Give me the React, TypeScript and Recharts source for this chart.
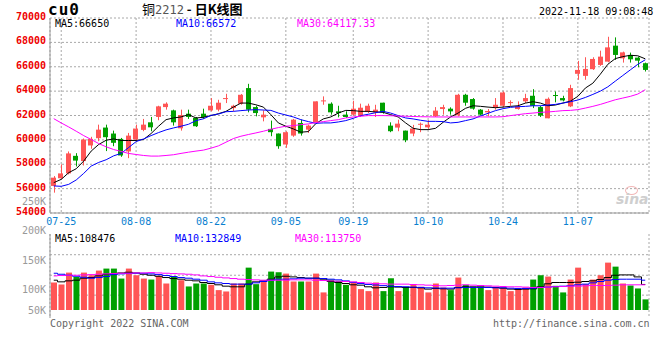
import {
	ComposedChart,
	Bar,
	Line,
	XAxis,
	YAxis,
	CartesianGrid,
	Cell,
} from 'recharts';

// trading days shown on the chart (07-22 .. 11-18)
const dates = [
	'07-22', '07-25', '07-26', '07-27', '07-28', '07-29', '08-01', '08-02', '08-03', '08-04',
	'08-05', '08-08', '08-09', '08-10', '08-11', '08-12', '08-15', '08-16', '08-17', '08-18',
	'08-19', '08-22', '08-23', '08-24', '08-25', '08-26', '08-29', '08-30', '08-31', '09-01',
	'09-02', '09-05', '09-06', '09-07', '09-08', '09-09', '09-13', '09-14', '09-15', '09-16',
	'09-19', '09-20', '09-21', '09-22', '09-23', '09-26', '09-27', '09-28', '09-29', '09-30',
	'10-10', '10-11', '10-12', '10-13', '10-14', '10-17', '10-18', '10-19', '10-20', '10-21',
	'10-24', '10-25', '10-26', '10-27', '10-28', '10-31', '11-01', '11-02', '11-03', '11-04',
	'11-07', '11-08', '11-09', '11-10', '11-11', '11-14', '11-15', '11-16', '11-17', '11-18',
];

const opens = [
	56220, 56850, 57250, 58690, 58260, 59540, 60140, 61010, 60520, 60080,
	59050, 60030, 60820, 61440, 61880, 62690, 62420, 60950, 62150, 61800,
	62150, 62420, 62480, 63400, 62610, 62970, 64250, 62690, 61850, 60900,
	60520, 59620, 60350, 61390, 60840, 61440, 63220, 62970, 62340, 62070,
	62070, 61990, 62310, 62260, 63050, 61170, 61010, 60760, 60520, 61280,
	61030, 61930, 62530, 62560, 62010, 63700, 63350, 62480, 62260, 62690,
	62800, 63080, 62530, 63160, 63620, 62690, 61770, 63680, 63430, 62750,
	65420, 65250, 65800, 66150, 66420, 67730, 66690, 66970, 66750, 66290,
];
const highs = [
	57030, 57990, 59050, 58910, 60110, 60250, 61250, 61250, 60760, 60160,
	60570, 61250, 61720, 61880, 62800, 63080, 62480, 62480, 62480, 61880,
	62560, 63430, 63290, 63780, 62880, 63760, 64600, 62800, 62420, 61580,
	60520, 60710, 61720, 61660, 61250, 63160, 63570, 63080, 62800, 62340,
	63210, 62970, 62970, 62880, 63050, 61440, 61660, 60760, 61230, 61420,
	61610, 62690, 62880, 62670, 63780, 63780, 63430, 62530, 62530, 63430,
	63970, 63240, 63160, 63780, 64160, 62800, 63480, 63970, 63620, 64520,
	66480, 66780, 66780, 67320, 68460, 68410, 67240, 67160, 66830, 66340,
];
const lows = [
	55670, 56800, 57170, 57820, 57900, 59270, 59890, 59080, 59480, 58610,
	58500, 59890, 60710, 60710, 61610, 62480, 61170, 60760, 61720, 61060,
	61720, 62340, 62340, 63020, 62340, 62880, 62260, 61930, 61520, 60300,
	59270, 59350, 60250, 60350, 60570, 61390, 62880, 62070, 61850, 61800,
	61990, 61880, 62200, 61880, 62150, 60630, 60710, 59810, 60300, 60630,
	60900, 61880, 62070, 62070, 61930, 62800, 62480, 61990, 61930, 62480,
	62690, 62800, 62480, 63020, 62610, 61880, 61770, 63080, 63160, 62690,
	64930, 64930, 65740, 66070, 66370, 66560, 66340, 66340, 65960, 65610,
];
const closes = [
	56900, 57250, 58890, 58300, 60030, 60080, 60840, 60220, 59760, 58720,
	60350, 60930, 61250, 61030, 62750, 62970, 61440, 62040, 61880, 61120,
	61880, 62800, 63050, 63430, 62800, 63700, 62480, 62200, 62070, 60630,
	59480, 60630, 61660, 60520, 61170, 63160, 63240, 62260, 62200, 61880,
	62560, 62640, 62800, 62480, 62260, 60710, 61330, 59970, 60930, 61320,
	61250, 62400, 62690, 62340, 63700, 63050, 62560, 62070, 62370, 62880,
	63890, 63100, 62750, 63430, 62800, 61990, 63370, 63640, 63240, 64250,
	65740, 65820, 66640, 66830, 67590, 66970, 67180, 66610, 66500, 65740,
];

const ma5 = [
	56490, 56760, 57310, 57630, 58260, 59080, 59620, 59970, 60080, 59950,
	59950, 59950, 60030, 60520, 61120, 61660, 61800, 61880, 62070, 61800,
	61850, 61990, 62150, 62340, 62690, 63020, 63020, 62880, 62690, 62070,
	61390, 61120, 60900, 60630, 60680, 61330, 61720, 61880, 62200, 62420,
	62400, 62340, 62340, 62290, 62260, 62070, 61880, 61390, 60950, 60840,
	60840, 60950, 61440, 61880, 62200, 62590, 62800, 62750, 62690, 62640,
	62690, 62750, 62800, 63020, 63130, 63020, 62800, 62860, 63020, 63180,
	63570, 64250, 64650, 65390, 66200, 66670, 66830, 66940, 66900, 66650,
];
const ma10 = [
	56220, 56190, 56350, 56710, 57250, 57850, 58150, 58370, 58690, 58890,
	59370, 59860, 60080, 60350, 60600, 60820, 60980, 61120, 61280, 61580,
	61730, 62010, 62120, 62310, 62340, 62400, 62450, 62480, 62450, 62420,
	62200, 62040, 61880, 61660, 61500, 61360, 61390, 61390, 61470, 61580,
	61770, 61990, 62100, 62230, 62340, 62200, 61990, 61800, 61720, 61610,
	61520, 61520, 61500, 61390, 61440, 61580, 61720, 61960, 62180, 62400,
	62560, 62670, 62720, 62750, 62800, 62800, 62860, 62910, 63020, 63130,
	63270, 63480, 63730, 64000, 64350, 64820, 65280, 65740, 66200, 66572,
];
const ma30 = [
	61740, 61390, 61060, 60710, 60350, 60030, 59700, 59430, 59210, 59050,
	58890, 58800, 58720, 58670, 58670, 58720, 58780, 58890, 58990, 59080,
	59160, 59320, 59510, 59810, 60110, 60300, 60440, 60570, 60710, 60870,
	61010, 61120, 61170, 61250, 61310, 61420, 61500, 61580, 61660, 61800,
	61880, 61940, 61990, 61990, 61990, 61980, 61960, 61940, 61920, 61900,
	61890, 61880, 61880, 61880, 61880, 61880, 61880, 61880, 61880, 61880,
	61900, 61990, 62070, 62150, 62200, 62260, 62290, 62340, 62400, 62420,
	62480, 62610, 62750, 62910, 63100, 63290, 63430, 63570, 63760, 64117,
];

const volumes = [
	111800, 108400, 128600, 121300, 128600, 124100, 132000, 135400, 135400, 118500,
	135400, 124100, 118500, 116800, 123000, 110100, 121300, 115700, 105100, 110100,
	110100, 107900, 98900, 96600, 110100, 110100, 137000, 109000, 114600, 130300,
	129200, 126900, 113500, 113500, 113500, 126900, 95000, 116800, 114600, 107900,
	111800, 100600, 97200, 111800, 97200, 119000, 97200, 104500, 109000, 104500,
	95000, 110100, 103400, 98900, 120200, 107900, 103400, 103400, 98900, 104500,
	103400, 97200, 100600, 103400, 116800, 124100, 121900, 106200, 95000, 116800,
	137000, 109000, 116800, 124100, 145500, 138700, 110100, 106700, 101700, 83200,
];
const volMa5 = [
	115700, 112900, 114600, 115700, 119100, 120200, 123000, 125800, 126900, 128000,
	129200, 128000, 125800, 124100, 122400, 120200, 118500, 117400, 115700, 114600,
	111800, 110100, 107900, 105600, 104500, 104500, 109000, 112900, 114600, 117400,
	121300, 122400, 121300, 120200, 119100, 119100, 117400, 113500, 111800, 110100,
	107900, 107300, 104500, 102800, 103400, 104500, 104000, 103400, 103400, 102800,
	100600, 101700, 101100, 100600, 103400, 104500, 104500, 104500, 104000, 103400,
	102200, 100600, 100000, 100600, 101100, 104500, 109600, 111800, 111800, 111800,
	112300, 113500, 114600, 116800, 120200, 124100, 124700, 124700, 121300, 108476,
];
const volMa10 = [
	127500, 125800, 124100, 122400, 120700, 119100, 120200, 121900, 125200, 126400,
	126900, 127500, 127500, 126400, 125200, 123600, 121900, 120200, 119100, 117400,
	115700, 112900, 111200, 110100, 109000, 109000, 109000, 111200, 113500, 115700,
	117400, 117400, 118000, 119100, 119100, 119100, 118500, 117400, 116300, 114500,
	112000, 110000, 108500, 107500, 106500, 105500, 105000, 104500, 104000, 103500,
	102800, 102500, 102200, 102200, 102800, 103400, 103400, 103400, 103400, 102800,
	102800, 102200, 101700, 101700, 102200, 103400, 104000, 105000, 105600, 106200,
	107900, 109000, 111200, 113500, 115700, 116800, 117400, 117400, 117400, 115700,
];
const volMa30 = [
	123000, 123600, 124100, 124100, 124700, 125200, 125800, 126400, 126900, 127500,
	127500, 128000, 128000, 128600, 128000, 127500, 126900, 126400, 125800, 124700,
	123000, 121900, 120700, 119600, 118500, 117400, 116800, 116300, 115700, 115700,
	115700, 115700, 116300, 116300, 116300, 115700, 115200, 114600, 114000, 113500,
	112900, 111800, 110700, 110100, 109600, 109000, 109000, 109000, 108400, 107900,
	107300, 106700, 106200, 106700, 107300, 107900, 107300, 106700, 106200, 105600,
	105000, 104500, 104500, 104000, 103400, 103400, 104000, 104500, 105000, 105600,
	105600, 106200, 106700, 106700, 106700, 107300, 107900, 107900, 107900, 107900,
];

const labelDates = ['07-25', '08-08', '08-22', '09-05', '09-19', '10-10', '10-24', '11-07'];
const priceTicks = [54000, 56000, 58000, 60000, 62000, 64000, 66000, 68000, 70000];
const volTicks = [50000, 100000, 150000, 200000, 250000];
const volGridLines = [90400, 124100, 158900];

const MONO = '"DejaVu Sans Mono", monospace';
const CJK = '"Noto Sans CJK SC", sans-serif';
const RED = '#ff5555';
const GREEN = '#00a000';
const GRID = '#a8a8a8';
const FRAME = '#999999';

const data = dates.map((date, i) => ({
	i,
	date,
	open: opens[i],
	high: highs[i],
	low: lows[i],
	close: closes[i],
	ma5: ma5[i],
	ma10: ma10[i],
	ma30: ma30[i],
	vol: volumes[i],
	vma5: volMa5[i],
	vma10: volMa10[i],
	vma30: volMa30[i],
}));

const tickIdx = labelDates.map((d) => dates.indexOf(d));
const xDomain = [-0.5, dates.length - 0.5];

// wick + body, the bar itself spans low..high
const Candle = (props: any) => {
	const { x, y, width, height, payload } = props;
	if (x == null || y == null) return null;
	const top = Math.min(y, y + height);
	const h = Math.abs(height);
	const span = payload.high - payload.low || 1;
	const py = (v: number) => top + ((payload.high - v) / span) * h;
	const up = payload.close >= payload.open;
	const color = up ? RED : GREEN;
	const cx = Math.round(x + width / 2) + 0.5;
	const bodyTop = py(Math.max(payload.open, payload.close));
	const bodyH = Math.max(1, py(Math.min(payload.open, payload.close)) - bodyTop);
	return (
		<g>
			<line x1={cx} x2={cx} y1={top} y2={top + h} stroke={color} strokeWidth={1} />
			<rect x={Math.round(x)} y={bodyTop} width={Math.round(width)} height={bodyH} fill={color} />
		</g>
	);
};

const PriceTick = (props: any) => {
	const { x, y, payload } = props;
	return (
		<text x={x} y={y - 1.5} dy='0.355em' textAnchor='end' fill='#ee0000' fontSize={10} fontWeight='bold' fontFamily={MONO}>
			{payload.value}
		</text>
	);
};

const VolTick = (props: any) => {
	const { x, y, payload } = props;
	// lowest label sits on the bar baseline like in the original
	const ty = Math.min(y, 120);
	return (
		<text x={x} y={ty} dy='0.355em' textAnchor='end' fill='#999' fontSize={10} fontFamily={MONO}>
			{payload.value / 1000}K
		</text>
	);
};

const label = (left: number, top: number, color: string, text: string) => (
	<div style={{ position: 'absolute', left, top, fontSize: 10, lineHeight: '11px', color, fontFamily: MONO, whiteSpace: 'pre' }}>
		{text}
	</div>
);

const App = () => {
	return (
		<div style={{ position: 'absolute', left: 0, top: 0, width: 660, height: 360, background: '#fff', overflow: 'hidden' }}>
			{/* price panel */}
			<div style={{ position: 'absolute', left: 0, top: 0 }}>
				<ComposedChart width={660} height={231} data={data} margin={{ top: 18, right: 11, bottom: 0, left: 0 }}>
					<CartesianGrid stroke={GRID} strokeDasharray='2 2' />
					<XAxis
						type='number'
						dataKey='i'
						domain={xDomain}
						allowDataOverflow
						ticks={tickIdx}
						interval={0}
						tickFormatter={(v) => dates[v] ?? ''}
						tick={{ fill: '#0a7fcf', fontSize: 10, fontFamily: MONO }}
						tickLine={false}
						tickSize={3}
						tickMargin={2}
						height={18}
						stroke={FRAME}
					/>
					<XAxis xAxisId='top' orientation='top' type='number' dataKey='i' domain={xDomain} allowDataOverflow tick={false} tickLine={false} height={0} stroke={FRAME} />
					<YAxis
						domain={[54000, 70000]}
						allowDataOverflow
						ticks={priceTicks}
						interval={0}
						tick={<PriceTick />}
						tickLine={false}
						tickSize={2}
						tickMargin={2}
						width={50}
						stroke={FRAME}
					/>
					<YAxis yAxisId='right' orientation='right' width={0} tick={false} tickLine={false} stroke={FRAME} />
					<Bar dataKey={(d: any) => [d.low, d.high]} barSize={5} shape={(p: any) => <Candle {...p} />} isAnimationActive={false} />
					<Line type='linear' dataKey='ma5' stroke='#000' strokeWidth={1} dot={false} activeDot={false} isAnimationActive={false} />
					<Line type='linear' dataKey='ma10' stroke='#0000ff' strokeWidth={1} dot={false} activeDot={false} isAnimationActive={false} />
					<Line type='linear' dataKey='ma30' stroke='#ff00ff' strokeWidth={1} dot={false} activeDot={false} isAnimationActive={false} />
				</ComposedChart>
			</div>

			{/* volume panel */}
			<div style={{ position: 'absolute', left: 0, top: 190 }}>
				<ComposedChart width={660} height={140} data={data} margin={{ top: 44, right: 11, bottom: 12, left: 0 }}>
					<CartesianGrid stroke={GRID} strokeDasharray='2 2' horizontalValues={volGridLines} />
					<XAxis type='number' dataKey='i' domain={xDomain} allowDataOverflow ticks={tickIdx} interval={0} tick={false} tickLine={false} height={0} stroke={FRAME} />
					<XAxis xAxisId='top' orientation='top' type='number' dataKey='i' domain={xDomain} allowDataOverflow tick={false} tickLine={false} height={0} stroke={FRAME} />
					<YAxis
						domain={[65200, 194000]}
						allowDataOverflow
						ticks={volTicks}
						interval={0}
						padding={{ top: 0, bottom: 8 }}
						tick={<VolTick />}
						tickLine={false}
						tickSize={2}
						tickMargin={2}
						width={50}
						stroke={FRAME}
					/>
					<YAxis yAxisId='right' orientation='right' width={0} tick={false} tickLine={false} stroke={FRAME} />
					<Bar dataKey='vol' barSize={6} isAnimationActive={false}>
						{data.map((d, index) => (
							<Cell key={`v-${index}`} fill={d.close >= d.open ? RED : GREEN} />
						))}
					</Bar>
					<Line type='step' dataKey='vma5' stroke='#000' strokeWidth={1} dot={false} activeDot={false} isAnimationActive={false} />
					<Line type='step' dataKey='vma10' stroke='#0000ff' strokeWidth={1} dot={false} activeDot={false} isAnimationActive={false} />
					<Line type='step' dataKey='vma30' stroke='#ff00ff' strokeWidth={1} dot={false} activeDot={false} isAnimationActive={false} />
				</ComposedChart>
			</div>

			{/* header */}
			<div style={{ position: 'absolute', left: 48, top: 3, fontSize: 16, lineHeight: '13px', letterSpacing: 1, fontWeight: 'bold', fontFamily: MONO, color: '#000' }}>
				cu0
			</div>
			<div style={{ position: 'absolute', left: 142, top: 2, height: 14, lineHeight: '14px', whiteSpace: 'pre', color: '#000' }}>
				<span style={{ fontSize: 13, lineHeight: '14px', fontFamily: CJK }}>铜</span>
				<span style={{ fontSize: 12, lineHeight: '14px', fontFamily: MONO, color: '#555' }}>2212</span>
				<span style={{ fontSize: 13, lineHeight: '14px', fontFamily: CJK, fontWeight: 'bold' }}> - 日K线图</span>
			</div>
			{label(539, 6, '#000', '2022-11-18 09:08:48')}

			{label(55, 18, '#000', 'MA5:66650')}
			{label(176, 18, '#0000ff', 'MA10:66572')}
			{label(297, 18, '#ff00ff', 'MA30:64117.33')}

			{label(55, 233, '#000', 'MA5:108476')}
			{label(175, 233, '#0000ff', 'MA10:132849')}
			{label(295, 233, '#ff00ff', 'MA30:113750')}

			{/* watermark */}
			<div style={{ position: 'absolute', left: 625, top: 186, width: 11, height: 7, borderRadius: '50%', border: '1px solid #f2b8b8' }} />
			<div style={{ position: 'absolute', left: 616, top: 192, fontSize: 14, lineHeight: '14px', fontStyle: 'italic', fontWeight: 'bold', fontFamily: '"DejaVu Sans"', color: '#cfcfcf' }}>
				sina
			</div>

			{/* footer */}
			{label(50, 318, '#666', 'Copyright 2022 SINA.COM')}
			{label(493, 318, '#666', 'http://finance.sina.com.cn')}
		</div>
	);
};

export default App;
